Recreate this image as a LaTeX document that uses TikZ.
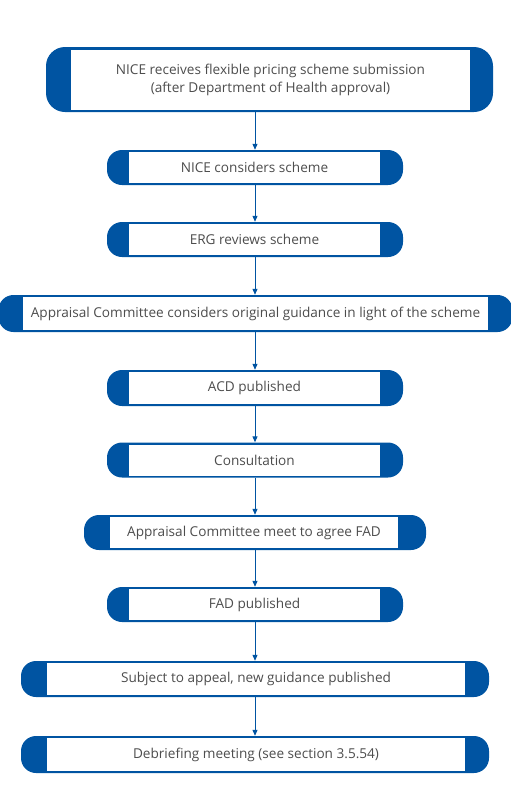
\documentclass[tikz,border=0pt]{standalone}
\usepackage{fontspec}
\setmainfont{Open Sans}
\usetikzlibrary{arrows.meta}
\definecolor{niceblue}{HTML}{0054A2}
\definecolor{txtgrey}{HTML}{4D4D4D}
\tikzset{
  outerbox/.style={fill=niceblue, draw=none, rounded corners=#1, inner sep=0pt},
  innerbox/.style={fill=white, draw=none, inner sep=0pt, font=\fontsize{13.6}{18}\selectfont, text=txtgrey, align=center},
  flow/.style={draw=niceblue, line width=1pt, -{Triangle[length=6pt,width=5pt]}}
}
\begin{document}
\begin{tikzpicture}[x=1pt,y=-1pt]
\useasboundingbox (0,0) rectangle (511,785);
% Box 1
\node[outerbox=19pt, minimum width=447pt, minimum height=65pt] (o1) at (269.5,79.5) {};
\node[innerbox, minimum width=399pt, minimum height=60pt] (n1) at (270.5,80) {NICE receives flexible pricing scheme submission\\(after Department of Health approval)};
% Box 2
\node[outerbox=15pt, minimum width=296pt, minimum height=35pt] (o2) at (255,167.5) {};
\node[innerbox, minimum width=251pt, minimum height=31pt] (n2) at (254.5,167.5) {NICE considers scheme};
% Box 3
\node[outerbox=15pt, minimum width=296pt, minimum height=35pt] (o3) at (255,239.5) {};
\node[innerbox, minimum width=251pt, minimum height=31pt] (n3) at (254.5,239.5) {ERG reviews scheme};
% Box 4
\node[outerbox=15pt, minimum width=514pt, minimum height=37pt] (o4) at (255.5,313.5) {};
\node[innerbox, minimum width=465pt, minimum height=33pt] (n4) at (255.5,313.5) {Appraisal Committee considers original guidance in light of the scheme};
% Box 5
\node[outerbox=15pt, minimum width=296pt, minimum height=36pt] (o5) at (255,388) {};
\node[innerbox, minimum width=251pt, minimum height=32pt] (n5) at (254.5,388) {ACD published};
% Box 6
\node[outerbox=15pt, minimum width=296pt, minimum height=35pt] (o6) at (255,460) {};
\node[innerbox, minimum width=251pt, minimum height=31pt] (n6) at (254.5,460) {Consultation};
% Box 7
\node[outerbox=15pt, minimum width=342pt, minimum height=35pt] (o7) at (255,532.5) {};
\node[innerbox, minimum width=288pt, minimum height=31pt] (n7) at (254,532.5) {Appraisal Committee meet to agree FAD};
% Box 8
\node[outerbox=15pt, minimum width=296pt, minimum height=35pt] (o8) at (255,604.5) {};
\node[innerbox, minimum width=251pt, minimum height=31pt] (n8) at (254.5,604.5) {FAD published};
% Box 9
\node[outerbox=15pt, minimum width=468pt, minimum height=36pt] (o9) at (255,679) {};
\node[innerbox, minimum width=418pt, minimum height=32pt] (n9) at (256,679) {Subject to appeal, new guidance published};
% Box 10
\node[outerbox=15pt, minimum width=468pt, minimum height=37pt] (o10) at (255,754.5) {};
\node[innerbox, minimum width=418pt, minimum height=33pt] (n10) at (256,754.5) {Debriefing meeting (see section 3.5.54)};
% Connectors
\draw[flow] (o1.south -| o2.north) -- (o2.north);
\draw[flow] (o2.south) -- (o3.north);
\draw[flow] (o3.south) -- (o4.north -| o3.south);
\draw[flow] (o4.south -| o5.north) -- (o5.north);
\draw[flow] (o5.south) -- (o6.north);
\draw[flow] (o6.south) -- (o7.north);
\draw[flow] (o7.south) -- (o8.north);
\draw[flow] (o8.south) -- (o9.north);
\draw[flow] (o9.south) -- (o10.north);
\end{tikzpicture}
\end{document}
